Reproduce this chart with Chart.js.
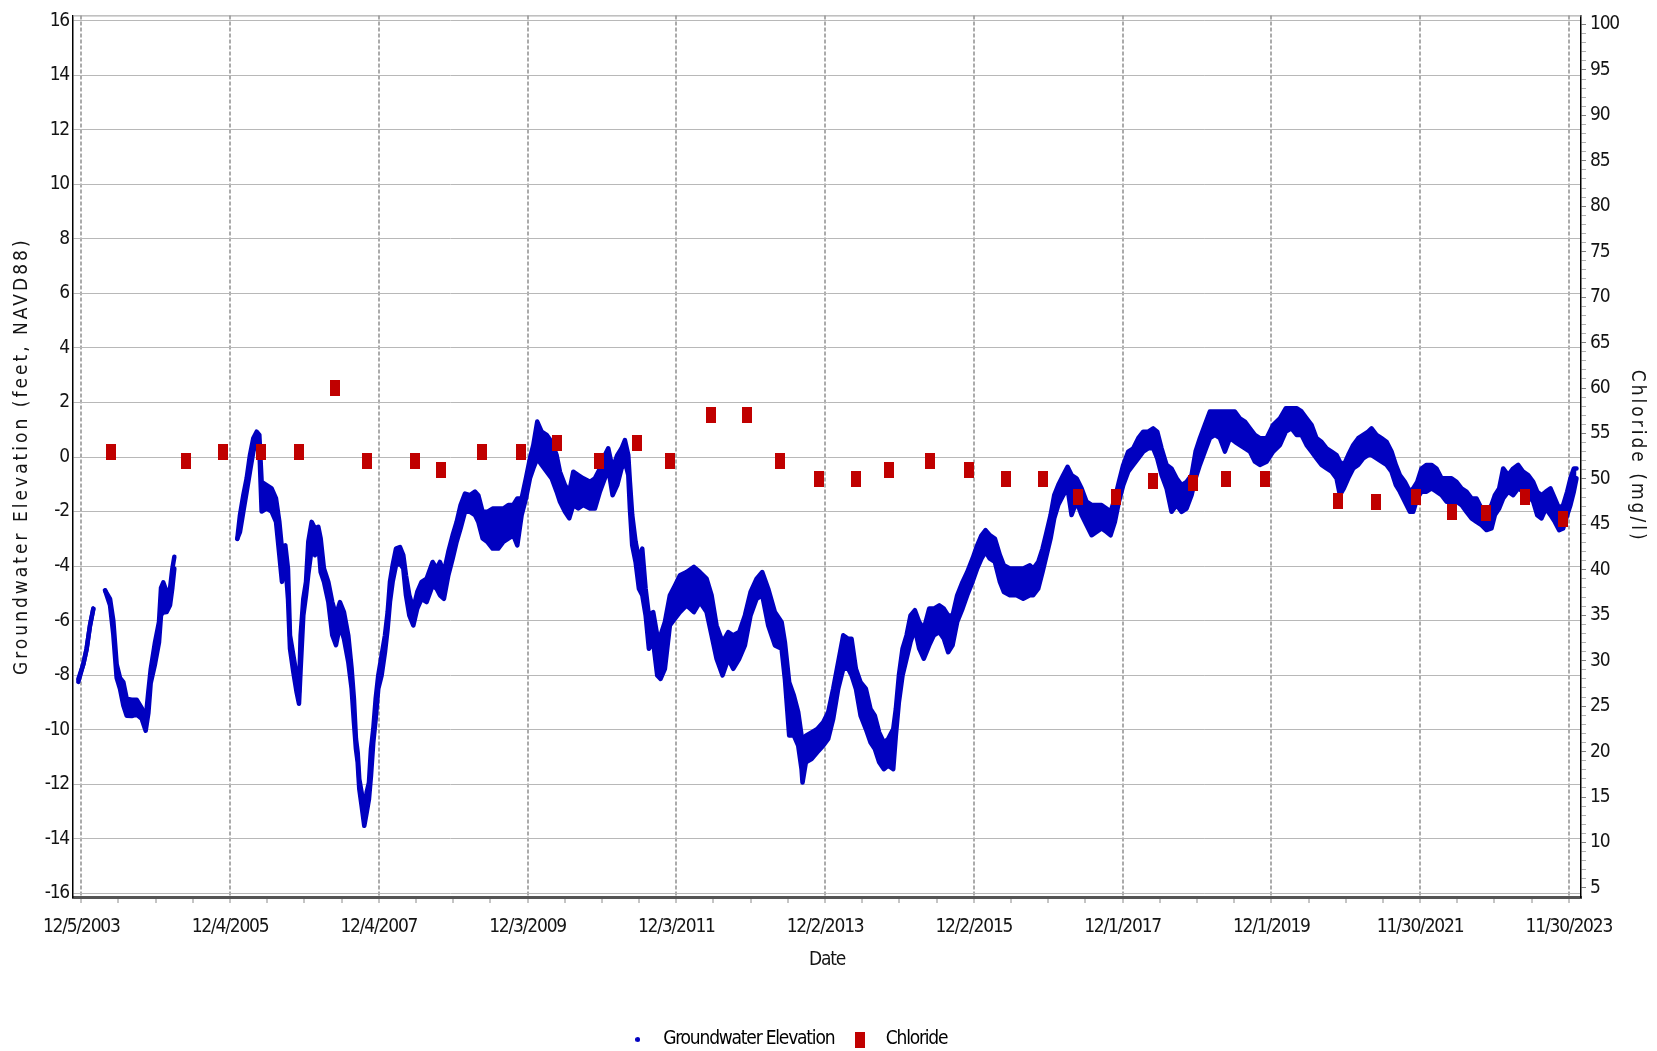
<!DOCTYPE html>
<html>
<head>
<meta charset="utf-8">
<title>Groundwater Elevation and Chloride</title>
<script src="https://cdn.jsdelivr.net/npm/chart.js@4.4.1/dist/chart.umd.min.js"></script>
<style>
  html, body { margin: 0; padding: 0; background: #fff; }
  #wrap { width: 1657px; height: 1051px; }
</style>
</head>
<body>
<div id="wrap"><canvas id="chart" width="1657" height="1051"></canvas></div>
<script>
// Dates are decimal years
const xTickLabels = ['12/5/2003', '12/4/2005', '12/4/2007', '12/3/2009', '12/3/2011', '12/2/2013',
  '12/2/2015', '12/1/2017', '12/1/2019', '11/30/2021', '11/30/2023'];
const xTickFirst = 2003.926;   // 12/5/2003
const xTickSpan = 1.9986;      // 730 days between labelled ticks
const leftTicks = [-16, -14, -12, -10, -8, -6, -4, -2, 0, 2, 4, 6, 8, 10, 12, 14, 16];
const rightLabels = [5, 10, 15, 20, 25, 30, 35, 40, 45, 50, 55, 60, 65, 70, 75, 80, 85, 90, 95, 100];

// Groundwater elevation: daily readings summarised as upper / lower edge of the band (null = no data)
const gwYear = [
  2003.886, 2003.953, 2003.998, 2004.043, 2004.088, 2004.16,
  2004.245, 2004.312, 2004.356, 2004.401, 2004.446, 2004.491, 2004.536, 2004.603, 2004.670, 2004.737,
  2004.791, 2004.827, 2004.858, 2004.916, 2004.970, 2004.997, 2005.028, 2005.073, 2005.118, 2005.149,
  2005.176, 2005.6,
  2006.022, 2006.058, 2006.103, 2006.148, 2006.192, 2006.237, 2006.282, 2006.318, 2006.349, 2006.416,
  2006.483, 2006.542, 2006.587, 2006.622, 2006.667, 2006.703, 2006.730, 2006.775, 2006.819, 2006.851,
  2006.873, 2006.909, 2006.945, 2006.976, 2007.021, 2007.066, 2007.110, 2007.142, 2007.186, 2007.245,
  2007.298, 2007.348, 2007.401, 2007.455, 2007.513, 2007.558, 2007.589, 2007.616, 2007.639, 2007.661,
  2007.692, 2007.728, 2007.760, 2007.791, 2007.818, 2007.849, 2007.881, 2007.916, 2007.961, 2008.006,
  2008.042, 2008.073, 2008.109, 2008.154, 2008.207, 2008.252, 2008.288, 2008.333, 2008.387, 2008.440,
  2008.498, 2008.566, 2008.646, 2008.700, 2008.745, 2008.798, 2008.857, 2008.915, 2008.969, 2009.022,
  2009.081, 2009.148, 2009.215, 2009.260, 2009.318, 2009.381, 2009.452, 2009.528, 2009.596, 2009.663,
  2009.730, 2009.784, 2009.842, 2009.900, 2009.954, 2009.999, 2010.052, 2010.111, 2010.178, 2010.245,
  2010.312, 2010.357, 2010.424, 2010.482, 2010.536, 2010.603, 2010.670, 2010.760, 2010.827, 2010.894,
  2010.961, 2011.006, 2011.064, 2011.127, 2011.185, 2011.230, 2011.275, 2011.297, 2011.328, 2011.373,
  2011.418, 2011.463, 2011.508, 2011.552, 2011.610, 2011.664, 2011.709, 2011.767, 2011.834, 2011.902,
  2011.969, 2012.058, 2012.157, 2012.237, 2012.327, 2012.394, 2012.461, 2012.542, 2012.618, 2012.685,
  2012.766, 2012.842, 2012.918, 2012.999, 2013.075, 2013.155, 2013.245, 2013.335, 2013.379, 2013.437,
  2013.500, 2013.558, 2013.603, 2013.616, 2013.661, 2013.737, 2013.814, 2013.894, 2013.961, 2014.028,
  2014.096, 2014.163, 2014.230, 2014.275, 2014.333, 2014.396, 2014.467, 2014.530, 2014.588, 2014.646,
  2014.709, 2014.767, 2014.835, 2014.870, 2014.911, 2014.960, 2015.014, 2015.067, 2015.126, 2015.184,
  2015.246, 2015.318, 2015.381, 2015.453, 2015.515, 2015.573, 2015.632, 2015.694, 2015.766, 2015.829,
  2015.900, 2015.963, 2016.021, 2016.075, 2016.133, 2016.200, 2016.268, 2016.321, 2016.402, 2016.491,
  2016.581, 2016.671, 2016.716, 2016.783, 2016.841, 2016.895, 2016.949, 2016.998, 2017.052, 2017.119,
  2017.177, 2017.231, 2017.298, 2017.365, 2017.433, 2017.500, 2017.567, 2017.634, 2017.701, 2017.755,
  2017.813, 2017.867, 2017.925, 2017.992, 2018.060, 2018.127, 2018.194, 2018.261, 2018.328, 2018.382,
  2018.440, 2018.507, 2018.574, 2018.642, 2018.709, 2018.776, 2018.843, 2018.897, 2018.955, 2019.022,
  2019.089, 2019.157, 2019.224, 2019.291, 2019.358, 2019.425, 2019.492, 2019.560, 2019.627, 2019.694,
  2019.761, 2019.851, 2019.940, 2020.030, 2020.110, 2020.186, 2020.254, 2020.321, 2020.388, 2020.455,
  2020.522, 2020.589, 2020.657, 2020.724, 2020.791, 2020.836, 2020.889, 2020.948, 2021.015, 2021.082,
  2021.149, 2021.216, 2021.261, 2021.328, 2021.395, 2021.463, 2021.530, 2021.588, 2021.642, 2021.709,
  2021.776, 2021.821, 2021.875, 2021.933, 2022.000, 2022.067, 2022.134, 2022.202, 2022.269, 2022.336,
  2022.403, 2022.470, 2022.537, 2022.605, 2022.672, 2022.739, 2022.806, 2022.873, 2022.918, 2022.976,
  2023.030, 2023.097, 2023.164, 2023.231, 2023.299, 2023.366, 2023.433, 2023.487, 2023.545, 2023.603,
  2023.666, 2023.724, 2023.782, 2023.836, 2023.890, 2023.934, 2023.979, 2024.015
];
const gwHigh = [
  -8.15, -7.6, -7.03, -6.18, -5.56, null,
  -4.89, -5.2, -6.0, -7.6, -8.1, -8.26, -8.87, -8.9, -8.9, -9.2,
  -9.6, -8.6, -7.8, -6.8, -6.05, -4.8, -4.6, -4.95, -4.83, -4.1,
  -3.66, null,
  -3.0, -2.13, -1.4, -0.78, 0.07, 0.69, 0.93, 0.81, -0.91, -1.03,
  -1.15, -1.52, -2.38, -3.36, -3.24, -4.1, -6.54, -7.28, -8.01, -8.63,
  -6.54, -5.2, -4.58, -3.1, -2.38, -2.62, -2.56, -2.99, -4.09, -4.58,
  -5.32, -5.8, -5.32, -5.69, -6.54, -7.77, -8.87, -10.34, -10.83, -11.82,
  -12.3, -13.04, -12.3, -11.94, -10.71, -9.98, -8.87, -8.01, -7.28, -6.54,
  -5.69, -4.58, -3.97, -3.36, -3.3, -3.6, -4.34, -5.07, -5.56, -4.95,
  -4.58, -4.46, -3.85, -4.09, -3.85, -4.22, -3.48, -2.87, -2.38, -1.76,
  -1.34, -1.4, -1.27, -1.4, -2.01, -2.01, -1.89, -1.89, -1.89, -1.76,
  -1.76, -1.52, -1.52, -0.78, -0.05, 0.44, 1.3, 0.93, 0.81, 0.56,
  0.07, -0.54, -1.03, -1.27, -0.54, -0.66, -0.78, -0.91, -0.78, -0.42,
  0.07, 0.32, -0.42, 0.07, 0.32, 0.62, 0.07, -0.91, -2.13, -3.11,
  -3.73, -3.36, -4.83, -5.81, -5.69, -6.54, -6.54, -6.05, -5.07, -4.71,
  -4.34, -4.22, -4.03, -4.22, -4.46, -5.07, -6.18, -6.79, -6.42, -6.54,
  -6.42, -5.81, -4.95, -4.46, -4.22, -4.83, -5.69, -6.05, -6.79, -8.26,
  -8.75, -9.36, -10.22, -10.71, -10.22, -10.1, -9.98, -9.73, -9.36, -8.5,
  -7.52, -6.54, -6.67, -6.67, -7.77, -8.26, -8.5, -9.24, -9.49, -10.1,
  -10.47, -10.34, -9.98, -9.24, -8.01, -7.03, -6.54, -5.81, -5.62, -6.05,
  -6.3, -5.56, -5.56, -5.44, -5.56, -5.81, -5.81, -5.07, -4.58, -4.22,
  -3.73, -3.24, -2.87, -2.68, -2.87, -2.99, -3.6, -3.97, -4.09, -4.09,
  -4.09, -3.97, -4.09, -3.85, -3.36, -2.75, -2.13, -1.4, -1.03, -0.66,
  -0.36, -0.66, -0.78, -1.15, -1.64, -1.76, -1.76, -1.76, -1.89, -2.01,
  -1.52, -0.91, -0.29, 0.2, 0.32, 0.69, 0.93, 0.93, 1.05, 0.93,
  0.32, -0.29, -0.42, -0.78, -1.03, -0.91, -0.66, 0.2, 0.69, 1.18,
  1.67, 1.67, 1.67, 1.67, 1.67, 1.67, 1.42, 1.3, 1.05, 0.81,
  0.69, 0.69, 1.18, 1.42, 1.79, 1.79, 1.79, 1.67, 1.42, 1.18,
  0.69, 0.56, 0.32, 0.2, 0.07, -0.17, -0.29, 0.07, 0.44, 0.69,
  0.81, 0.93, 1.05, 0.81, 0.69, 0.56, 0.2, -0.29, -0.66, -0.91,
  -1.27, -1.15, -0.91, -0.42, -0.29, -0.29, -0.42, -0.78, -0.78, -0.78,
  -0.91, -1.15, -1.27, -1.52, -1.52, -1.89, -2.01, -1.76, -1.4, -1.15,
  -0.42, -0.66, -0.42, -0.29, -0.54, -0.66, -0.91, -1.27, -1.4, -1.27,
  -1.15, -1.52, -1.89, -1.76, -1.27, -0.78, -0.42, -0.42
];
const gwLow = [
  -8.25, -7.6, -7.03, -6.18, -5.56, null,
  -4.89, -5.44, -6.5, -8.1, -8.5, -9.12, -9.49, -9.5, -9.45, -9.6,
  -10.04, -9.4, -8.3, -7.6, -6.8, -5.8, -5.7, -5.69, -5.44, -4.8,
  -4.09, null,
  -3.0, -2.75, -2.0, -1.27, -0.54, 0.2, 0.62, 0.32, -2.0, -1.89,
  -2.0, -2.38, -3.6, -4.58, -3.85, -5.2, -7.03, -7.89, -8.63, -9.05,
  -7.77, -5.81, -5.07, -4.3, -3.36, -3.6, -3.11, -4.22, -4.58, -5.32,
  -6.54, -6.9, -6.18, -6.67, -7.52, -8.5, -9.73, -10.71, -11.2, -12.18,
  -12.79, -13.53, -13.04, -12.55, -11.69, -10.47, -9.61, -8.5, -8.01, -7.16,
  -6.3, -5.32, -4.58, -3.97, -3.91, -4.09, -5.07, -5.81, -6.18, -5.56,
  -5.2, -5.32, -4.71, -4.83, -5.07, -5.2, -4.34, -3.73, -3.11, -2.62,
  -2.01, -2.01, -2.13, -2.38, -2.99, -3.11, -3.36, -3.36, -3.11, -2.99,
  -2.87, -3.24, -2.13, -1.52, -0.78, -0.42, -0.05, -0.29, -0.54, -0.78,
  -1.27, -1.64, -2.01, -2.25, -1.76, -1.89, -1.76, -1.89, -1.89, -1.27,
  -0.78, -0.42, -1.4, -1.03, -0.42, -0.17, -0.66, -1.89, -3.24, -3.85,
  -4.83, -5.07, -5.81, -7.03, -6.79, -8.01, -8.14, -7.77, -6.18, -5.93,
  -5.69, -5.44, -5.69, -5.32, -5.69, -6.54, -7.4, -8.01, -7.4, -7.77,
  -7.4, -6.91, -5.81, -5.2, -5.07, -6.18, -6.91, -7.03, -8.14, -10.22,
  -10.22, -10.59, -11.45, -11.94, -11.2, -11.08, -10.83, -10.59, -10.34, -9.61,
  -8.5, -7.77, -7.77, -8.01, -8.5, -9.49, -9.98, -10.47, -10.71, -11.2,
  -11.45, -11.32, -11.45, -10.22, -8.99, -8.01, -7.4, -6.79, -6.3, -7.03,
  -7.4, -6.91, -6.54, -6.42, -6.67, -7.16, -6.91, -6.05, -5.56, -5.07,
  -4.58, -4.09, -3.73, -3.48, -3.73, -3.85, -4.58, -4.95, -5.07, -5.07,
  -5.2, -5.07, -5.07, -4.83, -4.22, -3.6, -2.99, -2.25, -1.76, -1.4,
  -1.15, -2.13, -1.64, -2.13, -2.5, -2.87, -2.75, -2.62, -2.75, -2.87,
  -2.38, -1.64, -1.03, -0.54, -0.29, -0.05, 0.2, 0.32, 0.32, -0.05,
  -0.66, -1.15, -2.01, -1.76, -2.01, -1.89, -1.4, -0.78, -0.29, 0.2,
  0.69, 0.81, 0.69, 0.2, 0.69, 0.56, 0.44, 0.32, 0.2, -0.17,
  -0.29, -0.17, 0.2, 0.44, 0.93, 1.05, 0.81, 0.81, 0.44, 0.2,
  -0.05, -0.29, -0.42, -0.54, -0.78, -1.4, -1.15, -0.78, -0.42, -0.29,
  -0.05, 0.07, 0.07, -0.05, -0.17, -0.29, -0.54, -1.03, -1.27, -1.64,
  -2.01, -2.01, -1.52, -1.27, -1.27, -1.15, -1.27, -1.4, -1.64, -1.64,
  -1.64, -1.76, -2.01, -2.25, -2.38, -2.5, -2.68, -2.62, -2.13, -1.89,
  -1.52, -1.27, -1.4, -1.15, -1.27, -1.4, -1.64, -2.13, -2.25, -1.89,
  -2.13, -2.38, -2.68, -2.62, -2.13, -1.76, -1.27, -0.78
];

// Chloride samples (mg/l)
const chlYear = [
  2004.325, 2005.333, 2005.825, 2006.340, 2006.851, 2007.334, 2007.760, 2008.409, 2008.758, 2009.305,
  2009.833, 2010.318, 2010.881, 2011.387, 2011.834, 2012.385, 2012.864, 2013.312, 2013.836, 2014.333,
  2014.776, 2015.327, 2015.851, 2016.348, 2016.843, 2017.316, 2017.827, 2018.324, 2018.861, 2019.304,
  2019.828, 2020.809, 2021.319, 2021.857, 2022.340, 2022.797, 2023.321, 2023.827
];
const chlValue = [
  53, 52, 53, 53, 53, 60, 52, 52, 51, 53,
  53, 54, 52, 54, 52, 57, 57, 52, 50, 50,
  51, 52, 51, 50, 50, 48, 48, 49.8, 49.5, 50,
  50, 47.6, 47.5, 48, 46.4, 46.2, 48, 45.6
];

const FONT = "'DejaVu Sans Condensed', 'DejaVu Sans', sans-serif";
const FONT_SIZE = 19;
const BLUE = '#0000c0';
const RED = '#c00000';
const TEXT = '#141414';

function marker(w, h, color, round) {
  const c = document.createElement('canvas');
  c.width = w;
  c.height = h;
  const g = c.getContext('2d');
  g.fillStyle = color;
  if (round) {
    g.beginPath();
    g.arc(w / 2, h / 2, w / 2, 0, Math.PI * 2);
    g.fill();
  } else {
    g.fillRect(0, 0, w, h);
  }
  return c;
}
const chlMark = marker(10, 16, RED, false);
const gwDot = marker(5, 5, BLUE, true);

const pts = (xs, ys) => xs.map((x, i) => ({ x: x, y: ys[i] }));

// tighter text overall, spaced-out axis titles, a frame line on top, legend nudged left
const framePlugin = {
  id: 'frame',
  beforeLayout(chart) {
    chart.ctx.letterSpacing = '-1.2px';
  },
  afterLayout(chart) {
    if (chart.legend) {
      chart.legend.left -= 44;
      chart.legend.right -= 44;
    }
  },
  beforeDraw(chart) {
    chart.ctx.letterSpacing = '-1.2px';
    ['y', 'y2'].forEach(id => {
      const s = chart.scales[id];
      if (s && !s._spaced) {
        const orig = s.drawTitle;
        s.drawTitle = function () {
          const c = this.ctx;
          c.save();
          c.letterSpacing = '3px';
          orig.call(this);
          c.restore();
        };
        s._spaced = true;
      }
    });
  },
  afterDraw(chart) {
    const { ctx, chartArea } = chart;
    ctx.save();
    ctx.strokeStyle = '#9a9a9a';
    ctx.lineWidth = 1;
    ctx.beginPath();
    ctx.moveTo(chartArea.left, chartArea.top + 0.5);
    ctx.lineTo(chartArea.right, chartArea.top + 0.5);
    ctx.stroke();
    ctx.restore();
  }
};

const tickFont = { family: FONT, size: FONT_SIZE };

new Chart(document.getElementById('chart'), {
  type: 'line',
  data: {
    datasets: [
      {
        label: 'Groundwater Elevation',
        data: pts(gwYear, gwHigh),
        borderColor: BLUE,
        backgroundColor: BLUE,
        borderWidth: 4.5,
        borderJoinStyle: 'round',
        borderCapStyle: 'round',
        pointRadius: 0,
        pointStyle: gwDot,
        spanGaps: false,
        fill: false,
        yAxisID: 'y',
        order: 2
      },
      {
        label: 'gw-low',
        data: pts(gwYear, gwLow),
        borderColor: BLUE,
        backgroundColor: BLUE,
        borderWidth: 4.5,
        borderJoinStyle: 'round',
        borderCapStyle: 'round',
        pointRadius: 0,
        spanGaps: false,
        fill: '-1',
        yAxisID: 'y',
        order: 1
      },
      {
        label: 'Chloride',
        type: 'scatter',
        data: pts(chlYear, chlValue),
        pointStyle: chlMark,
        pointRadius: 6,
        showLine: false,
        backgroundColor: RED,
        borderColor: RED,
        yAxisID: 'y2',
        order: 0
      }
    ]
  },
  options: {
    responsive: false,
    animation: false,
    devicePixelRatio: 1,
    layout: { padding: { top: 13, bottom: -8, left: 0, right: 0 } },
    plugins: {
      tooltip: { enabled: false },
      legend: {
        position: 'bottom',
        labels: {
          usePointStyle: true,
          pointStyleWidth: 32,
          padding: 10,
          color: TEXT,
          font: { family: FONT, size: FONT_SIZE },
          generateLabels: () => [
            { text: 'Groundwater Elevation', pointStyle: gwDot, fillStyle: BLUE, strokeStyle: BLUE, lineWidth: 0, hidden: false, datasetIndex: 0 },
            { text: 'Chloride', pointStyle: chlMark, fillStyle: RED, strokeStyle: RED, lineWidth: 0, hidden: false, datasetIndex: 2 }
          ]
        }
      }
    },
    scales: {
      x: {
        type: 'linear',
        position: 'bottom',
        min: 2003.8145,
        max: 2024.0755,
        afterBuildTicks: s => {
          const ticks = [];
          for (let i = 0; i <= (xTickLabels.length - 1) * 4; i++) {
            ticks.push({ value: xTickFirst + i * xTickSpan / 4 });
          }
          s.ticks = ticks;
        },
        afterFit: s => { s.height = 123; },
        ticks: {
          autoSkip: false,
          maxRotation: 0,
          minRotation: 0,
          padding: 13,
          color: TEXT,
          font: tickFont,
          callback: (v, i) => (i % 4 === 0 ? xTickLabels[i / 4] : '')
        },
        grid: {
          color: c => (c.index % 4 === 0 ? '#ababab' : 'rgba(0,0,0,0)'),
          lineWidth: 2,
          tickColor: '#8a8a8a',
          tickLength: 6,
          tickWidth: 1
        },
        border: { color: '#555', width: 3, dash: [4, 2] },
        title: {
          display: true,
          text: 'Date',
          color: TEXT,
          font: { family: FONT, size: FONT_SIZE },
          padding: { top: 0, bottom: 49 }
        }
      },
      y: {
        type: 'linear',
        position: 'left',
        min: -16.14,
        max: 16.2,
        afterBuildTicks: s => { s.ticks = leftTicks.map(v => ({ value: v })); },
        afterFit: s => { s.width = 73; },
        ticks: { padding: 4, color: TEXT, font: tickFont },
        grid: { color: '#b8b8b8', lineWidth: 1, drawTicks: false },
        border: { color: '#000', width: 1.5 },
        title: {
          display: true,
          text: 'Groundwater Elevation (feet, NAVD88)',
          color: TEXT,
          font: { family: FONT, size: FONT_SIZE },
          padding: { top: 11, bottom: 0 }
        }
      },
      y2: {
        type: 'linear',
        position: 'right',
        min: 4,
        max: 101,
        afterBuildTicks: s => {
          const ticks = [];
          for (let v = rightLabels[0]; v <= rightLabels[rightLabels.length - 1]; v++) ticks.push({ value: v });
          s.ticks = ticks;
        },
        afterFit: s => { s.width = 76; },
        ticks: {
          autoSkip: false,
          padding: 4,
          color: TEXT,
          font: tickFont,
          callback: v => (rightLabels.includes(v) ? String(v) : '')
        },
        grid: {
          drawOnChartArea: false,
          tickLength: 5,
          tickColor: c => (c.tick && rightLabels.includes(c.tick.value) ? '#808080' : '#b0b0b0'),
          tickWidth: 1
        },
        border: { color: '#000', width: 1.5 },
        title: {
          display: true,
          text: 'Chloride (mg/l)',
          color: TEXT,
          font: { family: FONT, size: FONT_SIZE },
          padding: { top: 9, bottom: 0 }
        }
      }
    }
  },
  plugins: [framePlugin]
});
</script>
</body>
</html>
